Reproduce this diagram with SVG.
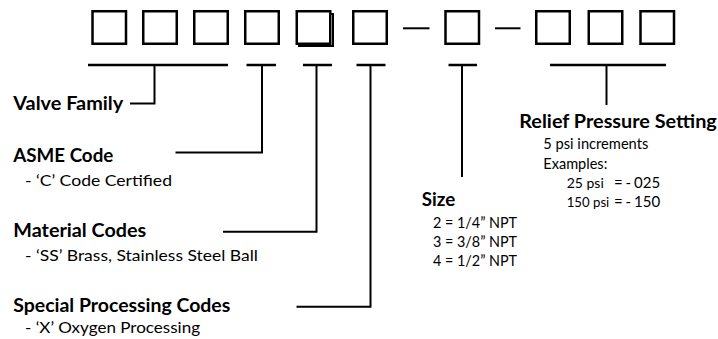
<svg xmlns="http://www.w3.org/2000/svg" width="718" height="339" viewBox="0 0 718 339">
<style>
.box{fill:#fff;stroke:#000;stroke-width:2.5}
.shadow{fill:none;stroke:#000;stroke-width:2}
.ul{stroke:#000;stroke-width:2.5;fill:none}
.ln{stroke:#000;stroke-width:2;fill:none}
.t{font-family:Lato,"Open Sans","Liberation Sans",sans-serif;font-weight:bold;font-size:19px;fill:#000}
.s{font-family:Lato,"Open Sans","Liberation Sans",sans-serif;font-size:16px;fill:#000}
.m{font-family:Lato,"Open Sans","Liberation Sans",sans-serif;font-size:15px;fill:#000}
</style>
<rect width="718" height="339" fill="#fff"/>
<g id="boxes">
<rect class="box" x="92.5" y="11.25" width="33.5" height="32.5"/>
<rect class="box" x="143.25" y="11.25" width="33.5" height="32.5"/>
<rect class="box" x="194.25" y="11.25" width="33.5" height="32.5"/>
<rect class="box" x="245.25" y="11.25" width="33.5" height="32.5"/>
<rect class="shadow" x="299" y="14" width="34" height="32"/>
<rect class="box" x="296.75" y="11.25" width="33.5" height="32.5"/>
<rect class="box" x="353.25" y="11.25" width="33.5" height="32.5"/>
<line class="ln" x1="403" y1="28.3" x2="429.5" y2="28.3" stroke-width="1.6"/>
<rect class="box" x="445.5" y="11.25" width="33.5" height="32.5"/>
<line class="ln" x1="495" y1="28.3" x2="520.5" y2="28.3" stroke-width="1.6"/>
<rect class="box" x="536.25" y="11.25" width="33.5" height="32.5"/>
<rect class="box" x="588.75" y="11.25" width="33.5" height="32.5"/>
<rect class="box" x="640.5" y="11.25" width="33.5" height="32.5"/>
</g>
<g id="connectors">
<line class="ul" x1="88" y1="65" x2="228" y2="65"/>
<polyline class="ln" points="154.5,65 154.5,103.5 130,103.5"/>
<line class="ul" x1="246.5" y1="65" x2="276" y2="65"/>
<polyline class="ln" points="262,65 262,152.5 175.5,152.5"/>
<line class="ul" x1="303" y1="65" x2="332" y2="65"/>
<polyline class="ln" points="316.5,65 316.5,231.8 223,231.8"/>
<line class="ul" x1="356.5" y1="65" x2="385.5" y2="65"/>
<polyline class="ln" points="370.5,65 370.5,306.8 296.5,306.8"/>
<line class="ul" x1="448.5" y1="65" x2="477" y2="65"/>
<line class="ln" x1="462" y1="65" x2="462" y2="177"/>
<line class="ul" x1="550" y1="65" x2="666" y2="65"/>
<line class="ln" x1="606.5" y1="65" x2="606.5" y2="105"/>
</g>
<g id="valve-family">
<text class="t" x="13.3" y="110" textLength="110" lengthAdjust="spacingAndGlyphs">Valve Family</text>
</g>
<g id="asme-code">
<text class="t" x="13.3" y="161.5" textLength="100" lengthAdjust="spacingAndGlyphs">ASME Code</text>
<text class="s" x="25" y="185.5" textLength="147" lengthAdjust="spacingAndGlyphs">- ‘C’  Code Certified</text>
</g>
<g id="material-codes">
<text class="t" x="13.3" y="237" textLength="133" lengthAdjust="spacingAndGlyphs">Material Codes</text>
<text class="s" x="25" y="260.5" textLength="233" lengthAdjust="spacingAndGlyphs">- ‘SS’  Brass, Stainless Steel Ball</text>
</g>
<g id="special-processing">
<text class="t" x="13.3" y="312" textLength="217" lengthAdjust="spacingAndGlyphs">Special Processing Codes</text>
<text class="s" x="25" y="333" textLength="175" lengthAdjust="spacingAndGlyphs">- ‘X’ Oxygen Processing</text>
</g>
<g id="size">
<text class="t" x="421.7" y="206" textLength="33.5" lengthAdjust="spacingAndGlyphs">Size</text>
<text class="m" x="433" y="227.5" textLength="84" lengthAdjust="spacingAndGlyphs">2 =  1/4” NPT</text>
<text class="m" x="433" y="246.5" textLength="84" lengthAdjust="spacingAndGlyphs">3 =  3/8” NPT</text>
<text class="m" x="433" y="265.5" textLength="84" lengthAdjust="spacingAndGlyphs">4 =  1/2” NPT</text>
</g>
<g id="relief-pressure">
<text class="t" x="519.3" y="128" font-size="20" textLength="197.5" lengthAdjust="spacingAndGlyphs">Relief Pressure Setting</text>
<text class="m" x="543.3" y="149" textLength="105" lengthAdjust="spacingAndGlyphs">5 psi increments</text>
<text class="m" x="543.3" y="168.5" textLength="64" lengthAdjust="spacingAndGlyphs">Examples:</text>
<text class="m" y="188"><tspan x="566.7" font-size="14">25 psi</tspan><tspan x="614">=</tspan><tspan x="625.5">-</tspan><tspan x="634">025</tspan></text>
<text class="m" y="207"><tspan x="566.7" font-size="13.2">150 psi</tspan><tspan x="614">=</tspan><tspan x="625.5">-</tspan><tspan x="634">150</tspan></text>
</g>
</svg>
